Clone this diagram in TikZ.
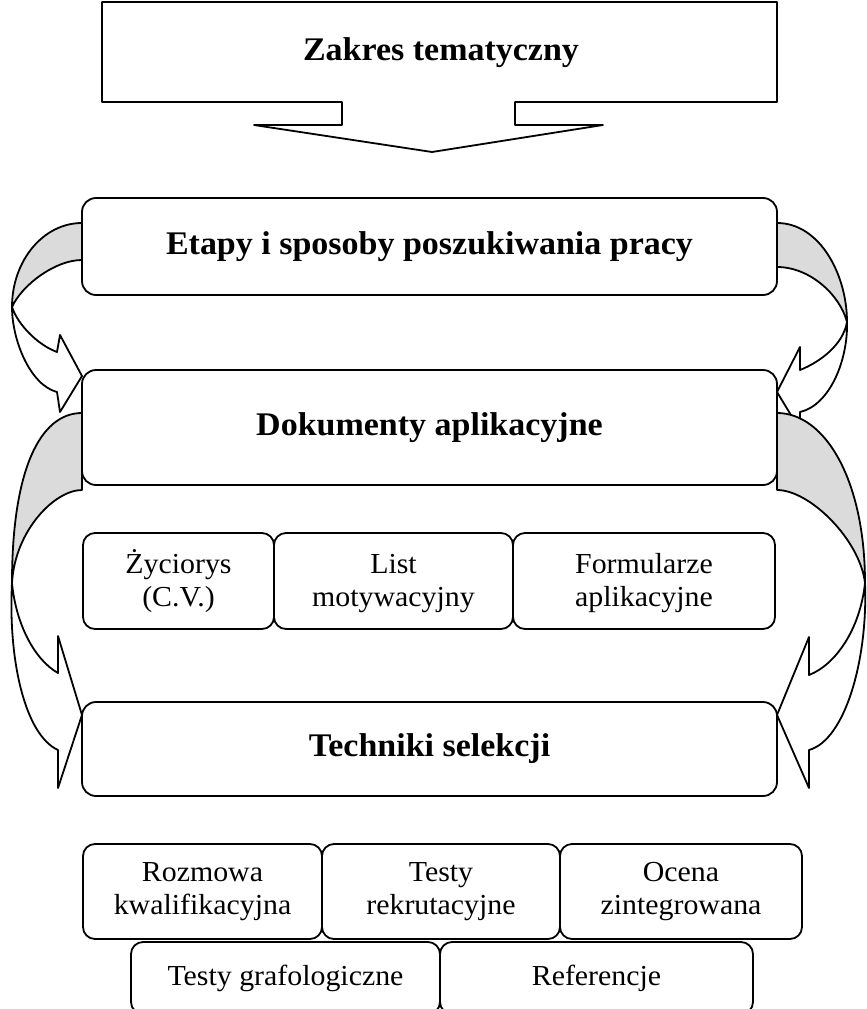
\documentclass[tikz,border=0pt]{standalone}
\usepackage{fontspec}
\setmainfont[FakeStretch=1.03]{Liberation Serif}
\newcommand\hdfont{\fontsize{33}{36}\selectfont\bfseries}
\newcommand\txfont{\fontsize{29}{33}\selectfont}
\begin{document}
\begin{tikzpicture}[x=1pt,y=-1pt,
  line join=round,
  outl/.style={draw=black, line width=1.8pt},
  bigbox/.style={outl, rounded corners=14pt, fill=white, inner sep=0pt, outer sep=0pt, align=center, font=\hdfont},
  smallbox/.style={outl, rounded corners=12pt, fill=white, inner sep=0pt, outer sep=0pt, align=center, font=\txfont},
  shadeband/.style={outl, fill=black!14},
  headarrow/.style={outl, fill=white}]
\useasboundingbox (0,0) rectangle (867,1009);

% top block arrow
\filldraw[outl, fill=white] (102,2) -- (777,2) -- (777,102) -- (515,102) -- (515,125) -- (603,125)
  -- (432,152) -- (254,125) -- (342,125) -- (342,102) -- (102,102) -- cycle;
\node[font=\hdfont] (zakres) at (441,53) {Zakres tematyczny};

% curved arrows, first level
\filldraw[shadeband] (82,223) .. controls (43,223) and (12,261) .. (12,307)
  .. controls (22,285) and (55,260) .. (82,260) -- cycle;
\filldraw[headarrow] (12,307) .. controls (18,325) and (38,345) .. (57,352) -- (60,335) -- (82,376)
  -- (60,412) -- (57,392) .. controls (30,385) and (12,340) .. (12,307) -- cycle;
\filldraw[shadeband] (777,223) .. controls (820,223) and (847,275) .. (847,322)
  .. controls (840,295) and (810,267) .. (777,267) -- cycle;
\filldraw[headarrow] (847,322) .. controls (843,345) and (820,362) .. (800,370) -- (800,347) -- (777,392)
  -- (800,430) -- (800,412) .. controls (830,405) and (848,360) .. (847,322) -- cycle;

% curved arrows, second level
\filldraw[shadeband] (82,413) .. controls (40,413) and (12,470) .. (12,583)
  .. controls (15,530) and (55,490) .. (82,490) -- cycle;
\filldraw[headarrow] (12,583) .. controls (16,625) and (35,660) .. (58,673) -- (58,636) -- (82,715)
  -- (58,788) -- (58,750) .. controls (25,735) and (8,660) .. (12,583) -- cycle;
\filldraw[shadeband] (777,413) .. controls (825,413) and (865,480) .. (865,583)
  .. controls (860,540) and (810,490) .. (777,490) -- cycle;
\filldraw[headarrow] (865,583) .. controls (860,630) and (835,665) .. (809,675) -- (809,637) -- (777,715)
  -- (809,788) -- (809,750) .. controls (845,740) and (868,660) .. (865,583) -- cycle;

% main boxes
\node[bigbox, minimum width=695pt, minimum height=97pt] (etapy) at (429.5,246.5) {Etapy i sposoby poszukiwania pracy};
\node[bigbox, minimum width=695pt, minimum height=115pt] (dok) at (429.5,427.5) {\raisebox{4pt}{Dokumenty aplikacyjne}};
\node[bigbox, minimum width=695pt, minimum height=94pt] (tech) at (429.5,749) {Techniki selekcji};

% document boxes
\node[smallbox, minimum width=191pt, minimum height=96pt] (cv) at (178.5,581) {Życiorys\\(C.V.)};
\node[smallbox, minimum width=239pt, minimum height=96pt] (list) at (393.5,581) {\vphantom{Ż}List\\motywacyjny};
\node[smallbox, minimum width=262pt, minimum height=96pt] (form) at (644,581) {\vphantom{Ż}Formularze\\aplikacyjne};

% selection boxes
\node[smallbox, minimum width=239pt, minimum height=95pt] (rozm) at (202.5,891.5) {Rozmowa\\kwalifikacyjna};
\node[smallbox, minimum width=238pt, minimum height=95pt] (rekr) at (441,891.5) {Testy\\rekrutacyjne};
\node[smallbox, minimum width=242pt, minimum height=95pt] (ocena) at (681,891.5) {Ocena\\zintegrowana};
\node[smallbox, minimum width=309pt, minimum height=72pt] (graf) at (285.5,978) {Testy grafologiczne};
\node[smallbox, minimum width=313pt, minimum height=72pt] (ref) at (596.5,978) {Referencje};
\end{tikzpicture}
\end{document}
